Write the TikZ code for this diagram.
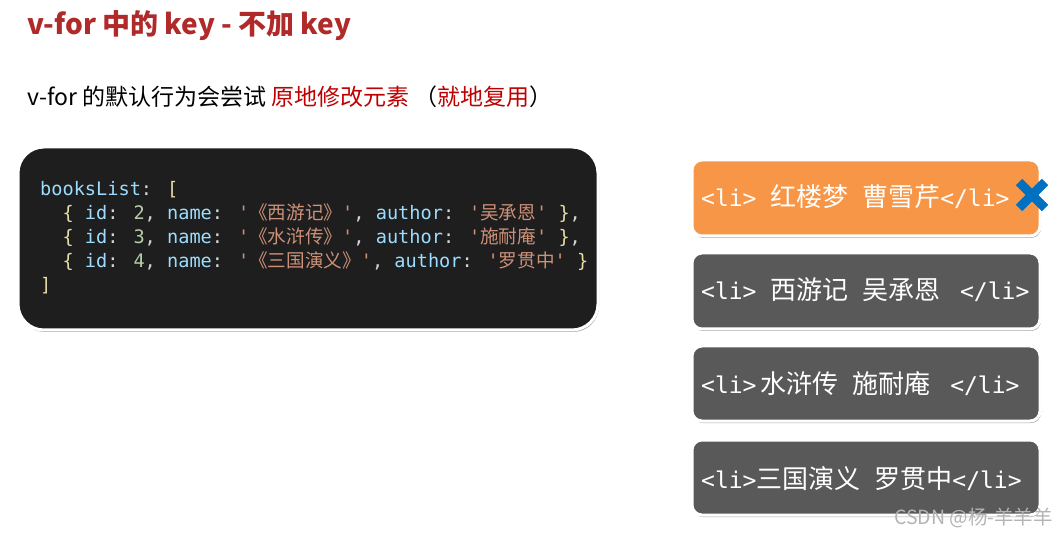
\documentclass[tikz,border=0pt]{standalone}
\usepackage{fontspec}
\setmainfont{Noto Sans CJK SC}
\newfontfamily\cjk{Noto Sans CJK SC}
\newfontfamily\codefont{DejaVu Sans Mono}
\usetikzlibrary{shadows}
\definecolor{titlered}{HTML}{B02A2A}
\definecolor{subred}{HTML}{C00000}
\definecolor{codebg}{HTML}{1E1E1E}
\definecolor{codeblue}{HTML}{9CDCFE}
\definecolor{codeorange}{HTML}{CE9178}
\definecolor{codegreen}{HTML}{B5CEA8}
\definecolor{codebrace}{HTML}{E6DCA8}
\definecolor{codewhite}{HTML}{D4D4D4}
\definecolor{boxorange}{HTML}{F79646}
\definecolor{boxgray}{HTML}{595959}
\definecolor{xblue}{HTML}{0070C0}
\definecolor{wmgray}{HTML}{B4B4B4}
\newcommand{\kw}[1]{\textcolor{codeblue}{#1}}
\newcommand{\st}[1]{\textcolor{codeorange}{#1}}
\newcommand{\nm}[1]{\textcolor{codegreen}{#1}}
\newcommand{\br}[1]{\textcolor{codebrace}{#1}}
\newcommand{\cj}[1]{{\cjk #1}}
\newcommand{\lj}[1]{{\cjk\fontsize{26}{29}\selectfont #1}}
\tikzset{
  codepanel/.style={draw=white, line width=3pt, fill=codebg, rounded corners=26pt,
    drop shadow={shadow xshift=1pt, shadow yshift=-2pt, opacity=0.35, fill=black}},
  libox/.style={draw=white, line width=3pt, rounded corners=10pt,
    drop shadow={shadow xshift=1pt, shadow yshift=-2pt, opacity=0.35, fill=black}},
  codeline/.style={anchor=base west, inner sep=0pt, text=codewhite, font=\codefont\fontsize{18.6}{22}\selectfont},
  litext/.style={anchor=west, inner sep=0pt, text=white, font=\codefont\fontsize{23}{27}\selectfont},
}
\begin{document}
\begin{tikzpicture}[x=1pt,y=-1pt]
\useasboundingbox[fill=white] (0,0) rectangle (1057,534);

% title
\node[anchor=base west, inner sep=0pt, text=titlered, font=\fontsize{28}{32}\selectfont\bfseries] (title) at (27,35) {v-for 中的 key - 不加 key};

% subtitle
\node[anchor=base west, inner sep=0pt, text=black, font=\fontsize{23}{27}\selectfont] (sub) at (27,106)
  {v-for 的默认行为会尝试 \textcolor{subred}{原地修改元素} （\textcolor{subred}{就地复用}）};

% code panel
\path[codepanel] (18,147) rectangle (598,330);
\node[codeline] (c1) at (40,196) {\kw{booksList}: \br{[}};
\node[codeline] (c2) at (40,220) {~~\br{\{} \kw{id}: \nm{2}, \kw{name}: \st{'\cj{《西游记》}'}, \kw{author}: \st{'\cj{吴承恩}'} \br{\}},};
\node[codeline] (c3) at (40,244) {~~\br{\{} \kw{id}: \nm{3}, \kw{name}: \st{'\cj{《水浒传》}'}, \kw{author}: \st{'\cj{施耐庵}'} \br{\}},};
\node[codeline] (c4) at (40,268) {~~\br{\{} \kw{id}: \nm{4}, \kw{name}: \st{'\cj{《三国演义》}'}, \kw{author}: \st{'\cj{罗贯中}'} \br{\}}};
\node[codeline] (c5) at (40,292) {\br{]}};

% list boxes
\path[libox, fill=boxorange] (692,160) rectangle (1040,236);
\path[libox, fill=boxgray] (692,253) rectangle (1040,329);
\path[libox, fill=boxgray] (692,346) rectangle (1040,421);
\path[libox, fill=boxgray] (692,440) rectangle (1040,515);

\node[litext] (l1) at (701,197) {<li> \lj{红楼梦} \lj{曹雪芹}</li>};
\node[litext] (l2) at (701,290) {<li> \lj{西游记} \lj{吴承恩} \hspace{6pt}</li>};
\node[litext] (l3) at (701,384) {<li>\hspace{4pt}\lj{水浒传} \lj{施耐庵} \hspace{6pt}</li>};
\node[litext] (l4) at (701,479) {<li>\lj{三国演义} \lj{罗贯中}</li>};

% blue cross
\coordinate (xc) at (1032,195);
\draw[xblue, line width=9pt] ([xshift=-13pt,yshift=13pt]xc) -- ([xshift=13pt,yshift=-13pt]xc);
\draw[xblue, line width=9pt] ([xshift=-13pt,yshift=-13pt]xc) -- ([xshift=13pt,yshift=13pt]xc);

% watermark
\node[anchor=base east, inner sep=0pt, text=wmgray, font=\fontsize{19.5}{22}\selectfont] (wm) at (1053,524) {CSDN @杨-羊羊羊};
\end{tikzpicture}
\end{document}
